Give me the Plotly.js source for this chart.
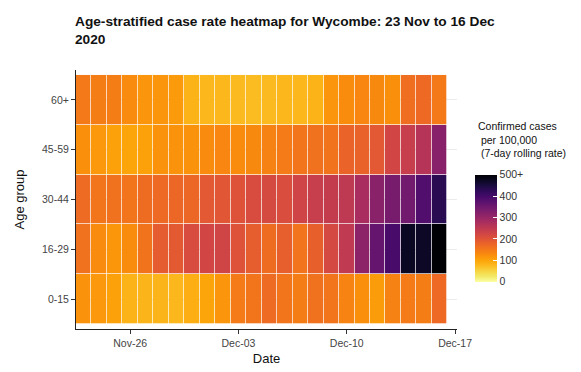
<!DOCTYPE html>
<html>
<head>
<meta charset="utf-8">
<script src="https://cdn.plot.ly/plotly-3.0.1.min.js"></script>
<style>html,body{margin:0;padding:0;background:#fff;}#chart{width:581px;height:372px;}</style>
</head>
<body>
<div id="chart"></div>
<script>
// Dates: 23 Nov 2020 to 16 Dec 2020
const dates = ['2020-11-23','2020-11-24','2020-11-25','2020-11-26','2020-11-27','2020-11-28','2020-11-29','2020-11-30',
  '2020-12-01','2020-12-02','2020-12-03','2020-12-04','2020-12-05','2020-12-06','2020-12-07','2020-12-08',
  '2020-12-09','2020-12-10','2020-12-11','2020-12-12','2020-12-13','2020-12-14','2020-12-15','2020-12-16'];
const ageGroups = ['0-15','16-29','30-44','45-59','60+'];

// Estimated 7-day rolling case rates per 100,000
const rate_0_15  = [120,115,105,85,83,83,80,90,100,118,148,155,170,155,145,160,155,138,125,110,140,148,145,172];
const rate_16_29 = [160,130,117,128,158,190,193,215,225,228,205,188,168,186,157,185,220,250,315,362,395,475,472,500];
const rate_30_44 = [170,155,160,155,168,172,175,175,195,198,205,215,218,213,230,240,245,252,280,318,340,348,385,435];
const rate_45_59 = [125,115,105,100,105,120,120,122,130,135,128,132,140,148,155,160,158,180,182,195,225,240,265,320];
const rate_60p   = [150,145,145,130,118,118,112,85,80,80,77,75,76,80,80,85,118,128,135,132,125,165,172,150];

const cbTickVals = [0,100,200,300,400,500];
const cbTickText = ['0','100','200','300','400','500+'];

const infernoRev = [
  [0.00,'#fcffa4'],[0.05,'#f2ea69'],[0.10,'#f6d543'],[0.15,'#fbbc21'],[0.20,'#fca50a'],
  [0.25,'#fa8f0b'],[0.30,'#f47918'],[0.35,'#ec6726'],[0.40,'#e05536'],[0.45,'#d14644'],
  [0.50,'#c03a51'],[0.55,'#ad305d'],[0.60,'#982766'],[0.65,'#84206b'],[0.70,'#6f196e'],
  [0.75,'#5a116e'],[0.80,'#450a69'],[0.85,'#300a5b'],[0.90,'#1b0c41'],[0.95,'#0a0722'],[1.00,'#000004']
];

const trace = {
  type: 'heatmap',
  x: dates,
  y: ageGroups,
  z: [rate_0_15, rate_16_29, rate_30_44, rate_45_59, rate_60p],
  zmin: 0, zmax: 500,
  colorscale: infernoRev,
  xgap: 0.7, ygap: 0.7,
  colorbar: {
    thickness: 22, thicknessmode: 'pixels',
    len: 0.413, lenmode: 'fraction',
    x: 1.047, xanchor: 'left', xref: 'paper',
    y: 0.389, yanchor: 'middle',
    outlinewidth: 0,
    tickvals: cbTickVals, ticktext: cbTickText,
    ticks: 'inside', ticklen: 4, tickcolor: '#ffffff', tickwidth: 1,
    tickfont: {family: 'Liberation Sans, Arial, sans-serif', size: 10.5, color: '#333'},
    ypad: 0, xpad: 0
  },
  hoverinfo: 'none'
};

const layout = {
  width: 581, height: 372,
  margin: {l: 76, r: 124, t: 70, b: 43},
  paper_bgcolor: '#ffffff', plot_bgcolor: '#ffffff',
  font: {family: 'Liberation Sans, Arial, sans-serif', color: '#222'},
  title: {
    text: '<b>Age-stratified case rate heatmap for Wycombe: 23 Nov to 16 Dec<br>2020</b>',
    x: 75/581, xref: 'container', xanchor: 'left',
    y: 1 - 26/372, yref: 'container', yanchor: 'top',
    font: {size: 13.7, color: '#111'}
  },
  xaxis: {
    type: 'date',
    range: ['2020-11-22 12:00', '2020-12-17 03:00'],
    tickvals: ['2020-11-26','2020-12-03','2020-12-10','2020-12-17'],
    ticktext: ['Nov-26','Dec-03','Dec-10','Dec-17'],
    ticks: 'outside', ticklen: 4, tickcolor: '#333', tickwidth: 1,
    showline: true, linecolor: '#222', linewidth: 1,
    showgrid: false, zeroline: false,
    tickfont: {size: 10.5, color: '#444'},
    title: {text: 'Date', font: {size: 13, color: '#111'}, standoff: 6}
  },
  yaxis: {
    type: 'category',
    range: [-0.6, 4.6],
    ticks: 'outside', ticklen: 4, tickcolor: '#333', tickwidth: 1,
    showline: true, linecolor: '#222', linewidth: 1,
    showgrid: true, gridcolor: '#ebebeb', gridwidth: 1,
    zeroline: false,
    tickfont: {size: 10.5, color: '#444'},
    title: {text: 'Age group', font: {size: 13, color: '#111'}, standoff: 14}
  },
  annotations: [{
    text: 'Confirmed cases<br> per 100,000<br> (7-day rolling rate)',
    xref: 'paper', yref: 'paper',
    x: (476-76)/381, xanchor: 'left',
    y: (329-118)/259, yanchor: 'top',
    align: 'left', showarrow: false,
    font: {size: 10.5, color: '#111'}
  }]
};

Plotly.newPlot('chart', [trace], layout, {displayModeBar: false, staticPlot: true});
</script>
</body>
</html>
